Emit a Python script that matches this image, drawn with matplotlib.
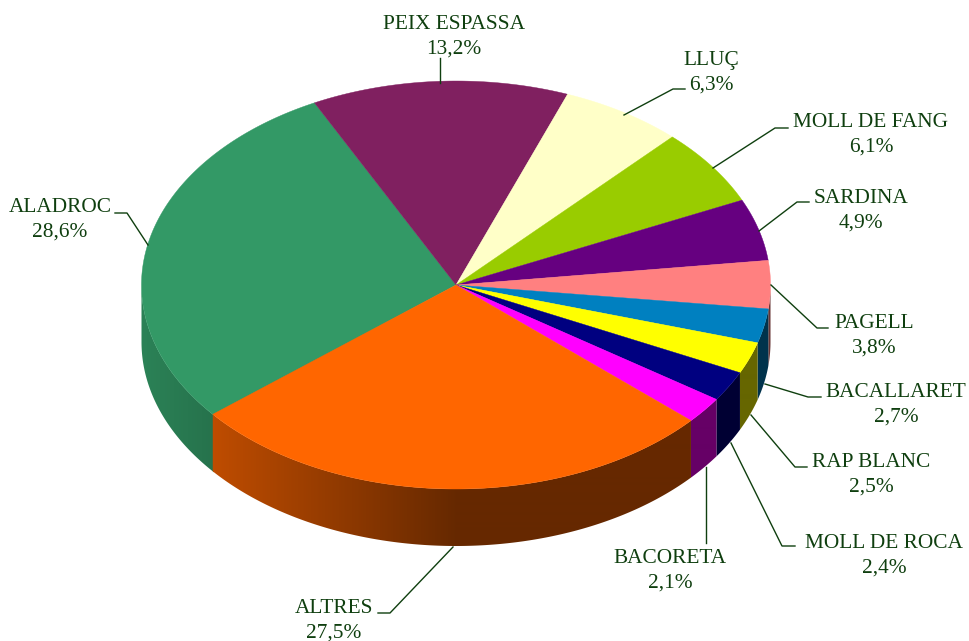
import numpy as np
import matplotlib
matplotlib.use('Agg')
import matplotlib.pyplot as plt
from matplotlib.colors import to_rgb

# dades, en sentit horari a partir d'ALADROC
names = ['ALADROC', 'PEIX ESPASSA', 'LLUÇ', 'MOLL DE FANG', 'SARDINA', 'PAGELL',
         'BACALLARET', 'RAP BLANC', 'MOLL DE ROCA', 'BACORETA', 'ALTRES']
values = [28.6, 13.2, 6.3, 6.1, 4.9, 3.8, 2.7, 2.5, 2.4, 2.1, 27.5]
colors = ['#339966', '#802060', '#FFFFC8', '#99CC00', '#660080', '#FF8080',
          '#0080C0', '#FFFF00', '#000080', '#FF00FF', '#FF6600']

# centre and radii of the top ellipse, in pixels
cx, cy = 456, 285
rx, ry = 314.5, 204
depth = 57
start = 219.7

label_pos = [(60, 220), (454, 37), (711, 73), (871, 135), (861, 211), (874, 336),
             (896, 405), (871, 475), (884, 556), (670, 571), (334, 621)]
leaders = [[(148, 245), (127, 213), (115, 213)],
           [(440, 83), (440, 58)],
           [(624, 115), (673, 89), (685, 89)],
           [(713, 168), (775, 128), (788, 128)],
           [(759, 231), (797, 202), (809, 202)],
           [(771, 285), (817, 328), (828, 328)],
           [(765, 384), (808, 397), (821, 397)],
           [(751, 415), (795, 467), (807, 467)],
           [(731, 443), (782, 546), (795, 546)],
           [(706, 467), (706, 543)],
           [(453, 547), (390, 613), (378, 613)]]
text_color = '#0F3F0F'

fig = plt.figure(figsize=(9.7, 6.41), dpi=100)
ax = fig.add_axes([0, 0, 1, 1])
ax.axis('off')

angles = start - np.cumsum([0] + values) * 3.6

# side wall, only the front half shows. gradient goes dark to the right, flat after centre
for i, col in enumerate(colors):
    a0 = min(angles[i], 360.0 if angles[i] > 180 else 0.0)
    a1 = angles[i + 1]
    if angles[i] <= 180 and a1 >= 0:
        continue
    if angles[i] > 180:
        a1 = max(a1, 180.0)
    t = np.radians(np.linspace(a0, a1, 200))
    xs = cx + rx * np.cos(t)
    ys = cy - ry * np.sin(t)
    poly = np.c_[np.r_[xs, xs[::-1]], np.r_[ys, ys[::-1] + depth]]
    col_x = np.arange(int(xs.min()) - 1, int(xs.max()) + 2)
    shade = np.where(col_x < cx, 0.4 + 0.45 * (cx - col_x) / rx, 0.4)
    grad = np.outer(shade, to_rgb(col))[np.newaxis, :, :]
    im = ax.imshow(grad, extent=(col_x[0], col_x[-1] + 1, 641, 0), aspect='auto', interpolation='bilinear')
    patch = plt.Polygon(poly, closed=True, transform=ax.transData, fc='none', ec='none')
    ax.add_patch(patch)
    im.set_clip_path(patch)

# top face
for i, col in enumerate(colors):
    t = np.radians(np.linspace(angles[i], angles[i + 1], 200))
    xs = np.r_[cx, cx + rx * np.cos(t)]
    ys = np.r_[cy, cy - ry * np.sin(t)]
    ax.fill(xs, ys, color=col, lw=0.3, ec=col)

for name, val, pos, pts in zip(names, values, label_pos, leaders):
    txt = name + '\n' + ('%.1f' % val).replace('.', ',') + '%'
    ax.text(pos[0], pos[1], txt, ha='center', va='center', family='Liberation Serif',
            fontsize=15.4, color=text_color, linespacing=1.36)
    ax.plot([p[0] for p in pts], [p[1] for p in pts], color=text_color, lw=1.0)

ax.set_xlim(0, 970)
ax.set_ylim(641, 0)
fig.savefig('out.png', dpi=100)
